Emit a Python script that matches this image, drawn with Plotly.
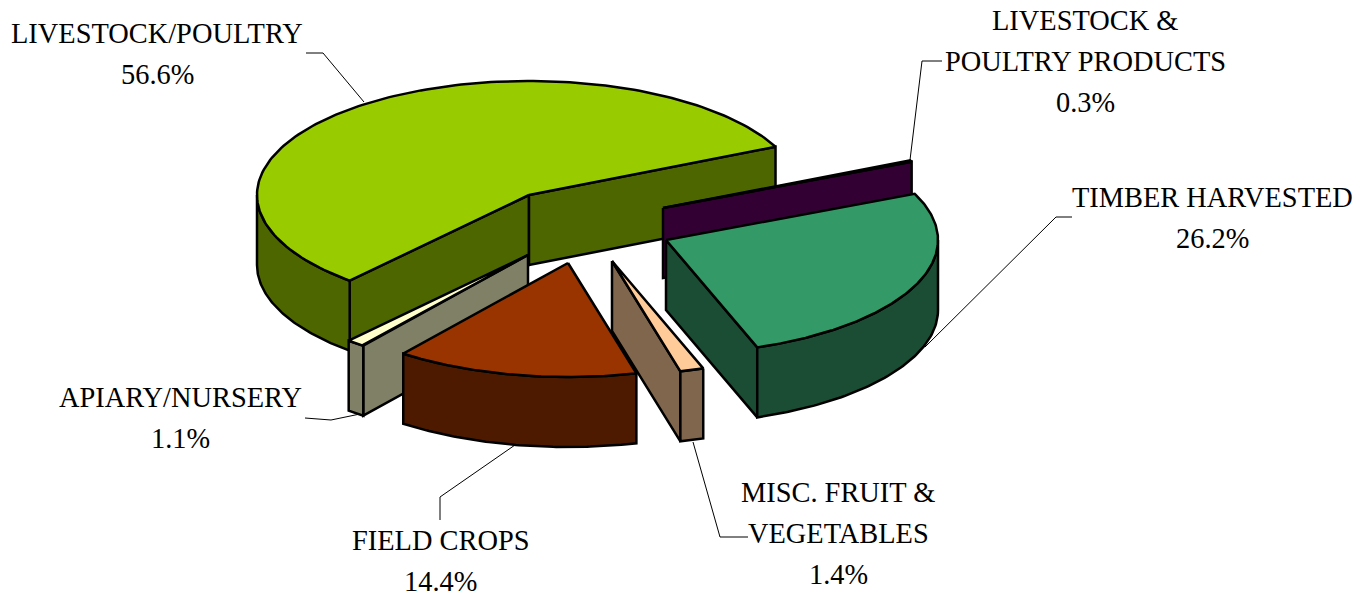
import numpy as np
import plotly.graph_objects as go

# --- data (clockwise from LIVESTOCK/POULTRY) ---
categories = ["LIVESTOCK/POULTRY", "LIVESTOCK & POULTRY PRODUCTS", "TIMBER HARVESTED",
              "MISC. FRUIT & VEGETABLES", "FIELD CROPS", "APIARY/NURSERY"]
values = [56.6, 0.3, 26.2, 1.4, 14.4, 1.1]
label_lines = [["LIVESTOCK/POULTRY"], ["LIVESTOCK &", "POULTRY PRODUCTS"], ["TIMBER HARVESTED"],
               ["MISC. FRUIT &", "VEGETABLES"], ["FIELD CROPS"], ["APIARY/NURSERY"]]

# --- styles ---
top_colors = ["#99CC00", "#660066", "#339966", "#FFCC99", "#993300", "#FFFFCC"]
side_colors = ["#4D6600", "#330033", "#1A4D33", "#80664D", "#4D1A00", "#808066"]

# --- layout (pixel space) ---
W, H = 1370, 594
RX, RY, DEPTH = 272.0, 114.0, 70.0
END_OF_FIRST = 65.0  # degrees clockwise from 12 o'clock
apex = {0: (529, 195), 1: (663, 208), 2: (666, 240), 3: (612, 261), 4: (568, 263), 5: (528, 255)}
draw_order = [0, 1, 5, 2, 3, 4]
label_pos = {0: (157, 33), 1: (1085, 20), 2: (1212, 197), 3: (838, 492), 4: (440, 540), 5: (180, 397)}
LINE_GAP = 41
leaders = {0: ([306, 323, 364], [53, 53, 102]),
           1: ([942, 922, 910], [61, 61, 160]),
           2: ([1072, 1056, 925], [217, 217, 347]),
           3: ([693, 720, 748], [442, 537, 537]),
           4: ([515, 440, 440], [445, 497, 520]),
           5: ([305, 331, 360], [418, 420, 414])}

# --- geometry derived from the values ---
spans = [v / sum(values) * 360.0 for v in values]
starts = [END_OF_FIRST + 360.0 - spans[0]]
for s in spans[:-1]:
    starts.append(starts[-1] + s)
starts = [a - 360.0 * (a >= 360.0 and i > 0) for i, a in enumerate(starts)]


def pt(i, deg):
    ax, ay = apex[i]
    t = np.radians(deg)
    return ax + RX * np.sin(t), ay - RY * np.cos(t)


def poly(xs, ys, fill, name):
    xs, ys = list(xs), list(ys)
    return go.Scatter(x=xs + xs[:1], y=ys + ys[:1], mode="lines", fill="toself", fillcolor=fill,
                      line=dict(color="black", width=2.5), name=name, hoverinfo="name", showlegend=False)


fig = go.Figure()
for i in draw_order:
    a0, a1 = starts[i], starts[i] + spans[i]
    ax, ay = apex[i]
    name = f"{categories[i]}: {values[i]}%"
    # cut faces that look towards the viewer
    for deg, visible in ((a0, np.sin(np.radians(a0)) < 0), (a1, np.sin(np.radians(a1)) > 0)):
        if visible:
            px, py = pt(i, deg)
            fig.add_trace(poly([ax, px, px, ax], [ay, py, py + DEPTH, ay + DEPTH], side_colors[i], name))
    # rim in the front half
    lo, hi = max(a0, 90.0), min(a1, 270.0)
    if hi > lo:
        arc = np.linspace(lo, hi, 80)
        px, py = pt(i, arc)
        fig.add_trace(poly(np.r_[px, px[::-1]], np.r_[py, py[::-1] + DEPTH], side_colors[i], name))
    # top face
    arc = np.linspace(a0, a1, 160)
    px, py = pt(i, arc)
    fig.add_trace(poly(np.r_[ax, px], np.r_[ay, py], top_colors[i], name))

for i in range(len(values)):
    lx, ly = leaders[i]
    fig.add_trace(go.Scatter(x=lx, y=ly, mode="lines", line=dict(color="black", width=1),
                             hoverinfo="skip", showlegend=False))
    cx, cy = label_pos[i]
    lines = label_lines[i] + [f"{values[i]}%"]
    for k, text in enumerate(lines):
        fig.add_annotation(x=cx, y=cy + k * LINE_GAP, text=text, showarrow=False, xanchor="center",
                           yanchor="middle", font=dict(family="Liberation Serif", size=28.4, color="#000000"))

fig.update_xaxes(range=[0, W], visible=False, fixedrange=True)
fig.update_yaxes(range=[H, 0], visible=False, fixedrange=True)
fig.update_layout(width=W, height=H, margin=dict(l=0, r=0, t=0, b=0), paper_bgcolor="white",
                  plot_bgcolor="white", showlegend=False)
fig.write_html("out.html", config={"displayModeBar": False},
               post_script="document.body.style.margin='0';document.body.style.overflow='hidden';")
